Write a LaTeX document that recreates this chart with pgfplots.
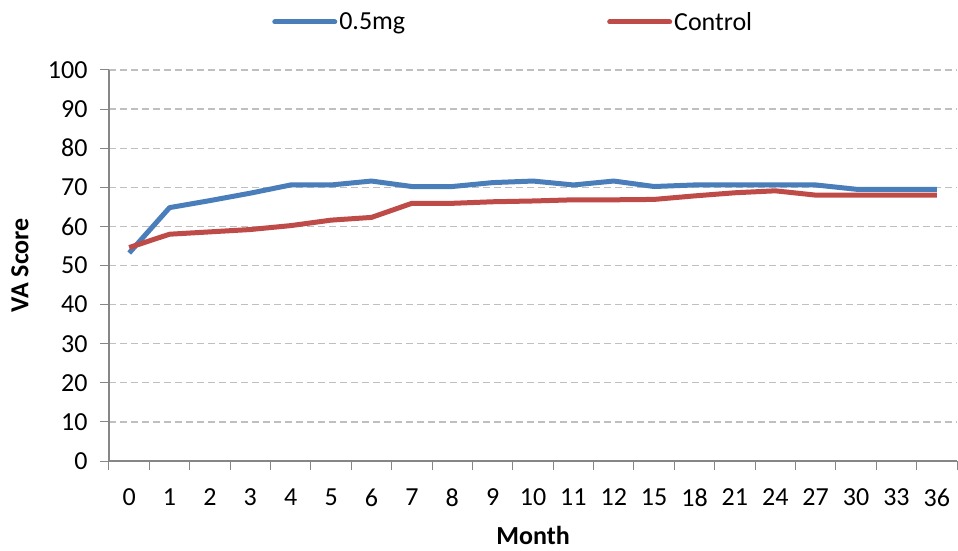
\documentclass[border=0pt]{standalone}
\usepackage{fontspec}
\setmainfont{Carlito}
\usepackage{pgfplots}
\pgfplotsset{compat=1.18}
\definecolor{cblue}{HTML}{4A7EBB}
\definecolor{cred}{HTML}{BE4B48}
\definecolor{cgrid}{HTML}{BFBFBF}
\definecolor{caxis}{HTML}{868686}
\newcommand{\cf}{\fontsize{26bp}{31bp}\selectfont}
\begin{document}
\begin{tikzpicture}
\begin{axis}[
  at={(0,0)}, anchor=south west,
  scale only axis, width=848bp, height=391bp,
  xmin=-0.5, xmax=20.5, ymin=0, ymax=100,
  xtick={-0.5,0.5,...,20.5},
  x tick label as interval,
  xticklabels={0,1,2,3,4,5,6,7,8,9,10,11,12,15,18,21,24,27,30,33,36},
  ytick={0,10,...,100},
  ymajorgrids, grid style={cgrid, line width=1.2bp, dash pattern=on 7bp off 4bp},
  axis x line*=bottom, axis y line*=left,
  axis line style={caxis, line width=1.2bp, -},
  tick style={caxis, line width=1bp},
  tick align=outside, major tick length=9bp,
  /pgf/number format/assume math mode=true,
  tick label style={font=\cf},
  xticklabel style={yshift=-15bp},
  yticklabel style={xshift=-9bp},
  xlabel={\textbf{Month}}, ylabel={\textbf{VA Score}},
  label style={font=\cf},
  xlabel style={at={(rel axis cs:0.5,0)}, anchor=center, yshift=-74bp},
  ylabel style={at={(rel axis cs:0,0.5)}, anchor=center, yshift=89bp},
  legend columns=2,
  legend style={at={(rel axis cs:0.1923,1.1228)}, anchor=west, draw=none, inner sep=0pt, font=\cf,
    /tikz/every even column/.style={column sep=200bp},
    /tikz/every odd column/.style={column sep=0bp}},
  legend image code/.code={\draw[#1, line cap=round] (0bp,0bp) -- (60bp,0bp);},
  clip=false,
]
\addplot[cblue, line width=5bp, line join=round] coordinates {
(0,53.2)(1,64.8)(2,66.6)(3,68.5)(4,70.6)(5,70.6)(6,71.6)(7,70.2)(8,70.2)(9,71.2)(10,71.6)
(11,70.6)(12,71.6)(13,70.2)(14,70.6)(15,70.6)(16,70.6)(17,70.6)(18,69.5)(19,69.5)(20,69.5)};
\addlegendentry{0.5mg}
\addplot[cred, line width=5bp, line join=round] coordinates {
(0,54.6)(1,58.0)(2,58.6)(3,59.2)(4,60.2)(5,61.6)(6,62.3)(7,65.9)(8,65.9)(9,66.3)(10,66.5)
(11,66.8)(12,66.8)(13,66.9)(14,67.8)(15,68.6)(16,69.1)(17,68.0)(18,68.0)(19,68.0)(20,68.0)};
\addlegendentry{Control}
\end{axis}
\pgfresetboundingbox
\useasboundingbox (-109bp,-90bp) rectangle (849bp,461bp);
\end{tikzpicture}
\end{document}
